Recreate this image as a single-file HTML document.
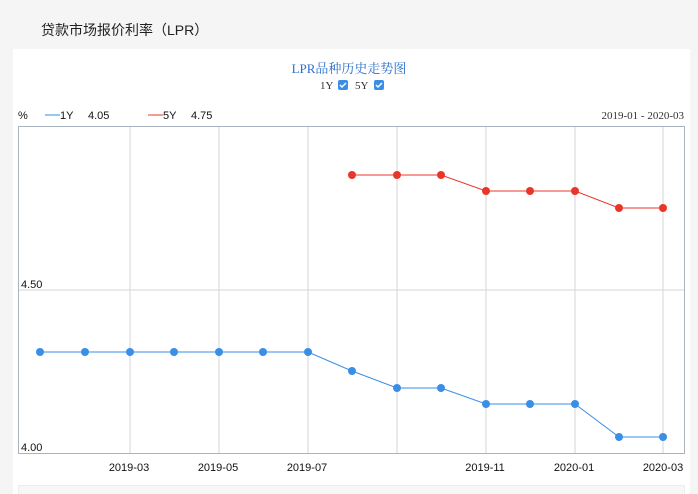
<!DOCTYPE html><html><head><meta charset="utf-8"><style>
body{margin:0;width:698px;height:494px;background:#f5f5f5;overflow:hidden;font-family:"Liberation Sans","Noto Sans CJK SC",sans-serif;}
</style></head><body>
<svg width="698" height="494" xmlns="http://www.w3.org/2000/svg" style="position:absolute;left:0;top:0">
<text x="41" y="35" font-size="14" fill="#222" font-family="Liberation Sans,Noto Sans CJK SC,sans-serif">贷款市场报价利率（LPR）</text>
<rect x="13" y="49" width="677" height="445" fill="#fff"/>
<text x="349" y="73" font-size="13" fill="#2a6fc9" text-anchor="middle" font-family="Liberation Serif,Noto Serif CJK SC,serif">LPR品种历史走势图</text>
<text x="320" y="89" font-size="11" fill="#333" font-family="Liberation Serif,serif">1Y</text>
<rect x="338" y="80" width="10" height="10" rx="2" fill="#3a8ee6"/><path d="M340 85l2 2 4-4" stroke="#fff" stroke-width="1.5" fill="none"/>
<text x="355" y="89" font-size="11" fill="#333" font-family="Liberation Serif,serif">5Y</text>
<rect x="374" y="80" width="10" height="10" rx="2" fill="#3a8ee6"/><path d="M376 85l2 2 4-4" stroke="#fff" stroke-width="1.5" fill="none"/>
<text x="18" y="119" font-size="11" fill="#111">%</text>
<line x1="45" y1="115" x2="60" y2="115" stroke="#3a8ee6"/>
<text x="60" y="119" font-size="11" fill="#111">1Y</text><text x="88" y="119" font-size="11" fill="#111">4.05</text>
<line x1="148" y1="115" x2="163" y2="115" stroke="#e8372a"/>
<text x="163" y="119" font-size="11" fill="#111">5Y</text><text x="191" y="119" font-size="11" fill="#111">4.75</text>
<text x="684" y="119" font-size="11" fill="#333" text-anchor="end" font-family="Liberation Serif,serif">2019-01 - 2020-03</text>
<g stroke="#d5d5d5" stroke-width="1">
<line x1="130" y1="126" x2="130" y2="453"/><line x1="219" y1="126" x2="219" y2="453"/><line x1="308" y1="126" x2="308" y2="453"/><line x1="397" y1="126" x2="397" y2="453"/><line x1="486" y1="126" x2="486" y2="453"/><line x1="575" y1="126" x2="575" y2="453"/><line x1="663" y1="126" x2="663" y2="453"/>
<line x1="18" y1="290" x2="684" y2="290"/>
</g>
<rect x="18.5" y="126.5" width="666" height="327" fill="none" stroke="#a9b3c2"/>
<text x="21" y="288" font-size="11" fill="#111">4.50</text>
<text x="21" y="451" font-size="11" fill="#111">4.00</text>
<g font-size="11" fill="#111" text-anchor="middle">
<text x="129" y="471">2019-03</text><text x="218" y="471">2019-05</text><text x="307" y="471">2019-07</text><text x="485" y="471">2019-11</text><text x="574" y="471">2020-01</text><text x="663" y="471">2020-03</text>
</g>
<polyline fill="none" stroke="#3a8ee6" stroke-width="1" points="40,352 85,352 130,352 174,352 219,352 263,352 308,352 352,371 397,388 441,388 486,404 530,404 575,404 619,437 663,437"/>
<g fill="#3a8ee6">
<circle cx="40" cy="352" r="4"/><circle cx="85" cy="352" r="4"/><circle cx="130" cy="352" r="4"/><circle cx="174" cy="352" r="4"/><circle cx="219" cy="352" r="4"/><circle cx="263" cy="352" r="4"/><circle cx="308" cy="352" r="4"/><circle cx="352" cy="371" r="4"/><circle cx="397" cy="388" r="4"/><circle cx="441" cy="388" r="4"/><circle cx="486" cy="404" r="4"/><circle cx="530" cy="404" r="4"/><circle cx="575" cy="404" r="4"/><circle cx="619" cy="437" r="4"/><circle cx="663" cy="437" r="4"/>
</g>
<polyline fill="none" stroke="#e8372a" stroke-width="1" points="352,175 397,175 441,175 486,191 530,191 575,191 619,208 663,208"/>
<g fill="#e8372a">
<circle cx="352" cy="175" r="4"/><circle cx="397" cy="175" r="4"/><circle cx="441" cy="175" r="4"/><circle cx="486" cy="191" r="4"/><circle cx="530" cy="191" r="4"/><circle cx="575" cy="191" r="4"/><circle cx="619" cy="208" r="4"/><circle cx="663" cy="208" r="4"/>
</g>
<rect x="18.5" y="485.5" width="666" height="12" fill="#f7f7f7" stroke="#eee"/>
</svg>
</body></html>
